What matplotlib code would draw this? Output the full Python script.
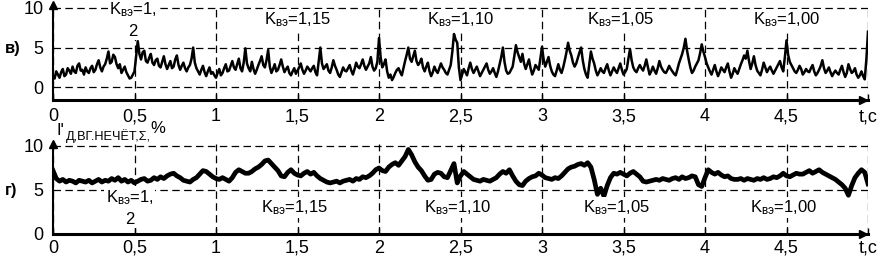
import numpy as np
import matplotlib
matplotlib.use('Agg')
import matplotlib.pyplot as plt

plt.rcParams['font.family'] = ['Liberation Sans', 'DejaVu Sans']
plt.rcParams['mathtext.fontset'] = 'custom'
plt.rcParams['mathtext.rm'] = 'Liberation Sans'
plt.rcParams['mathtext.it'] = 'Liberation Sans'

# значения
t_top = np.round(np.arange(0, 5.0001, 0.01), 2)   # шаг 0,01 с
t_bot = np.round(np.arange(0, 5.0001, 0.02), 2)   # шаг 0,02 с

k_top = [  # в)
    1.5, 1.1, 2.0, 1.6, 1.2, 1.9, 2.3, 1.4, 1.6, 2.4, 2.1, 1.7, 2.6, 2.0, 1.8, 2.7, 3.0, 2.1, 2.2, 1.6,
    2.5, 2.0, 1.8, 2.4, 2.7, 1.9, 2.2, 2.9, 3.4, 2.5, 2.0, 2.6, 2.9, 3.6, 4.5, 3.0, 3.2, 4.1, 3.8, 2.9,
    2.4, 2.9, 1.8, 2.2, 2.6, 1.9, 1.5, 1.1, 1.2, 1.6, 2.0, 3.9, 5.8, 4.2, 3.5, 4.4, 4.6, 3.3, 3.1, 3.7,
    4.2, 3.1, 2.8, 3.4, 3.6, 2.7, 2.5, 3.2, 3.9, 2.9, 2.3, 2.8, 3.3, 2.4, 2.6, 3.5, 4.0, 2.8, 2.2, 2.7,
    3.1, 2.4, 2.0, 2.5, 2.8, 3.6, 5.0, 3.1, 2.4, 2.0, 1.6, 2.2, 2.7, 1.9, 1.4, 2.0, 2.5, 1.7, 1.9, 1.5,
    1.2, 1.8, 2.3, 1.5, 1.8, 2.4, 2.9, 2.0, 2.1, 2.7, 3.3, 2.5, 2.2, 2.9, 3.6, 2.4, 2.0, 3.1, 4.9, 3.0,
    2.4, 2.0, 3.2, 2.3, 1.7, 2.2, 2.8, 3.3, 3.9, 2.8, 2.5, 3.4, 4.7, 2.6, 1.8, 2.3, 2.9, 2.0, 2.2, 2.8,
    3.5, 2.6, 1.9, 2.3, 2.6, 1.8, 1.5, 2.0, 2.4, 1.7, 2.1, 2.5, 3.0, 2.2, 1.7, 2.1, 2.6, 2.3, 2.0, 2.4,
    2.7, 1.9, 1.5, 3.2, 5.0, 3.0, 2.3, 2.6, 2.9, 2.1, 1.8, 2.5, 3.4, 2.7, 2.2, 1.6, 1.3, 1.9, 2.5, 2.1,
    2.0, 2.4, 2.8, 2.1, 1.6, 2.3, 3.1, 2.6, 2.4, 2.9, 3.5, 2.7, 2.2, 2.6, 3.0, 3.8, 2.6, 2.1, 2.4, 3.2,
    6.2, 3.8, 2.5, 2.9, 3.5, 2.0, 1.2, 1.6, 0.9, 1.3, 1.8, 2.2, 2.4, 1.9, 1.5, 2.4, 3.3, 4.1, 5.0, 3.6,
    3.2, 3.9, 4.6, 3.3, 2.8, 3.1, 3.6, 2.5, 2.0, 2.6, 3.1, 2.0, 1.4, 1.9, 2.6, 2.1, 1.8, 2.4, 3.0, 2.5,
    2.2, 1.8, 1.6, 2.2, 2.8, 4.5, 6.7, 6.0, 5.6, 2.5, 0.9, 1.6, 2.3, 1.9, 1.5, 2.4, 3.1, 2.3, 1.8, 2.2,
    2.6, 2.0, 1.4, 1.8, 2.2, 2.6, 3.0, 2.2, 1.7, 2.0, 2.4, 1.8, 1.3, 2.0, 2.9, 3.8, 5.0, 3.2, 2.1, 1.7,
    1.8, 2.2, 2.6, 3.9, 5.3, 4.4, 3.8, 3.2, 4.2, 3.0, 2.3, 2.9, 3.5, 2.4, 1.6, 2.1, 2.8, 2.5, 2.2, 3.6,
    5.1, 3.5, 2.6, 3.2, 3.8, 2.7, 2.0, 1.6, 1.4, 2.1, 2.9, 2.2, 1.8, 2.5, 3.4, 4.4, 5.6, 4.6, 4.0, 3.1,
    2.6, 3.0, 3.7, 4.4, 5.0, 3.4, 2.3, 1.6, 1.2, 2.8, 4.5, 3.6, 3.0, 2.1, 1.5, 1.9, 2.4, 2.0, 1.8, 2.4,
    2.9, 2.1, 1.5, 2.0, 2.5, 2.1, 1.8, 2.4, 3.0, 2.2, 1.6, 1.9, 2.3, 3.6, 4.8, 3.4, 2.5, 2.1, 1.9, 2.4,
    2.8, 2.4, 2.1, 2.7, 3.5, 2.5, 1.6, 2.0, 2.6, 2.1, 1.7, 2.4, 3.3, 2.6, 2.2, 1.9, 1.8, 2.2, 2.7, 2.3,
    2.0, 1.7, 1.5, 2.2, 3.0, 3.6, 4.2, 5.0, 6.1, 4.6, 3.5, 2.5, 1.8, 2.1, 2.6, 3.0, 3.4, 4.3, 5.4, 4.5,
    3.8, 3.0, 2.5, 2.0, 1.6, 2.2, 2.8, 2.0, 1.4, 1.9, 2.5, 2.2, 1.9, 2.5, 3.0, 2.0, 1.2, 1.7, 2.4, 2.0,
    1.7, 2.3, 2.9, 3.4, 4.0, 3.6, 4.6, 3.3, 2.3, 3.0, 3.9, 2.8, 2.1, 1.8, 1.5, 2.2, 3.1, 2.5, 1.9, 2.3,
    2.6, 2.1, 1.7, 2.1, 2.5, 2.9, 3.3, 2.5, 2.0, 3.8, 5.9, 4.1, 3.2, 2.8, 2.4, 2.0, 1.8, 2.2, 2.7, 2.3,
    1.6, 1.9, 2.3, 2.0, 1.9, 2.4, 2.8, 2.0, 1.5, 1.8, 2.2, 2.7, 3.4, 2.4, 1.8, 2.1, 2.5, 1.9, 1.4, 1.8,
    2.1, 1.8, 1.6, 2.2, 2.7, 1.9, 1.3, 1.8, 2.9, 2.3, 1.8, 2.0, 2.4, 1.6, 1.2, 1.5, 2.0, 1.4, 1.0, 3.5,
    7.0,
]

i_bot = [  # г) I'д,вг.нечёт,Σ, %
    7.2, 6.3, 6.0, 6.2, 5.9, 6.1, 6.0, 5.8, 6.1, 6.0,
    5.9, 6.1, 5.8, 6.0, 6.2, 5.9, 6.1, 6.0, 6.3, 6.1,
    6.4, 6.0, 6.2, 5.9, 6.1, 5.8, 6.0, 6.2, 6.3, 6.0,
    6.1, 6.4, 6.2, 6.5, 6.3, 6.6, 6.8, 6.9, 6.6, 6.4,
    6.1, 6.0, 5.9, 6.2, 6.4, 6.8, 7.2, 7.1, 6.8, 6.5,
    6.3, 6.2, 6.4, 6.2, 6.0, 6.4, 7.0, 7.3, 7.1, 6.9,
    6.9, 7.1, 7.4, 7.6, 7.9, 8.3, 8.4, 8.0, 7.6, 7.2,
    6.6, 6.5, 7.0, 7.3, 6.9, 6.7, 6.6, 6.9, 7.1, 6.8,
    7.0, 6.6, 6.3, 6.1, 5.9, 5.8, 5.9, 6.0, 5.8, 6.0,
    6.1, 6.2, 6.0, 6.3, 6.2, 6.5, 6.4, 6.6, 6.9, 7.3,
    7.5, 7.2, 7.1, 7.6, 7.9, 8.1, 7.8, 8.3, 8.8, 9.6,
    9.0, 8.2, 7.6, 7.2, 6.6, 6.1, 6.2, 6.8, 7.0, 6.9,
    6.5, 6.4, 7.2, 8.0, 5.8, 6.6, 7.1, 6.8, 6.5, 6.2,
    6.1, 6.0, 6.2, 6.1, 6.0, 6.2, 6.4, 6.8, 7.1, 6.9,
    7.3, 6.6, 6.0, 5.6, 5.5, 6.0, 6.3, 6.5, 6.6, 6.9,
    6.7, 6.4, 6.3, 6.2, 6.4, 6.3, 6.6, 7.0, 7.4, 7.6,
    7.7, 7.9, 8.0, 7.8, 8.1, 7.6, 6.2, 4.5, 5.2, 4.3,
    5.5, 6.4, 6.9, 6.8, 7.0, 6.8, 6.6, 6.9, 7.1, 6.8,
    6.5, 6.0, 5.9, 6.0, 6.1, 6.2, 6.1, 6.3, 6.2, 6.1,
    6.3, 6.4, 6.2, 6.5, 6.3, 6.4, 6.6, 6.5, 5.6, 5.4,
    6.4, 7.3, 7.0, 6.8, 7.0, 6.7, 6.5, 6.6, 6.3, 6.2,
    6.2, 6.3, 6.1, 6.3, 6.2, 6.1, 6.3, 6.2, 6.4, 6.2,
    6.3, 6.5, 6.4, 6.6, 6.9, 6.6, 6.5, 6.7, 6.9, 6.8,
    6.8, 7.0, 7.2, 6.9, 7.1, 7.3, 7.0, 6.8, 6.6, 6.4,
    6.2, 5.9, 5.6, 5.2, 4.4, 5.5, 6.4, 6.9, 7.3, 7.0,
    5.7,
]

xticks = [0, 0.5, 1, 1.5, 2, 2.5, 3, 3.5, 4, 4.5, 5]
xlabels = ['0', '0,5', '1', '1,5', '2', '2,5', '3', '3,5', '4', '4,5', 't,c']
yticks = [0, 5, 10]

k_pos = [0.49, 1.5, 2.5, 3.48, 4.5]
k_txt = ['K$_{\\mathrm{вэ}}$=1,\n2', 'K$_{\\mathrm{вэ}}$=1,15', 'K$_{\\mathrm{вэ}}$=1,10',
         'K$_{\\mathrm{вэ}}$=1,05', 'K$_{\\mathrm{вэ}}$=1,00']

W, H = 883, 257
fig = plt.figure(figsize=(W / 100, H / 100), dpi=100)

ax1 = fig.add_axes([53 / W, 1 - 100 / H, 815 / W, 94.6 / H])
ax2 = fig.add_axes([53 / W, 1 - 234 / H, 815 / W, 89.8 / H])


def setup(ax, ymin, ymax, pad):
    ax.set_xlim(0, 5)
    ax.set_ylim(ymin, ymax)
    ax.set_xticks(xticks)
    ax.set_xticklabels(xlabels)
    ax.set_yticks(yticks)
    ax.set_yticklabels(['0', '5', '10'])
    ax.tick_params(axis='x', labelsize=13, length=4, width=1, direction='in', pad=pad)
    ax.tick_params(axis='y', labelsize=13, length=0, pad=7)
    ax.grid(True, color='black', linewidth=0.9, linestyle=(0, (6, 3.5)))
    ax.set_axisbelow(True)
    for s in ['top', 'right']:
        ax.spines[s].set_visible(False)
    ax.spines['left'].set_linewidth(1.5)
    ax.spines['bottom'].set_linewidth(2.2)
    ax.plot([0], [ymax], marker='^', color='black', markersize=6, clip_on=False)
    ax.plot([4.97], [ymin], marker='>', color='black', markersize=6, clip_on=False)


setup(ax1, -1.6, 10.3, 6)
setup(ax2, 0, 10.2, 4)

ax1.plot(t_top, k_top, color='black', linewidth=1.8)
ax2.plot(t_bot, i_bot, color='black', linewidth=3.4)

box = dict(facecolor='white', edgecolor='none', pad=1)
for x, s in zip(k_pos, k_txt):
    ax1.text(x, 8.5, s, ha='center', va='center', fontsize=12, linespacing=1.35, bbox=box)
    ax2.text(x - 0.02, 3.0, s, ha='center', va='center', fontsize=12, linespacing=1.35, bbox=box)

fig.text(5 / W, 1 - 48 / H, 'в)', fontsize=12, fontweight='bold', va='center', ha='left')
fig.text(5 / W, 1 - 190 / H, 'г)', fontsize=12, fontweight='bold', va='center', ha='left')

# подпись оси г): I' с нижним индексом и %
fig.text(57 / W, 1 - 135 / H, "I'", fontsize=12, va='baseline', ha='left')
fig.text(66 / W, 1 - 140 / H, "Д,ВГ.НЕЧЁТ,Σ,", fontsize=9.2, va='baseline', ha='left')
fig.text(150 / W, 1 - 133 / H, "%", fontsize=12, va='baseline', ha='left')

fig.savefig('out.png', dpi=100)
